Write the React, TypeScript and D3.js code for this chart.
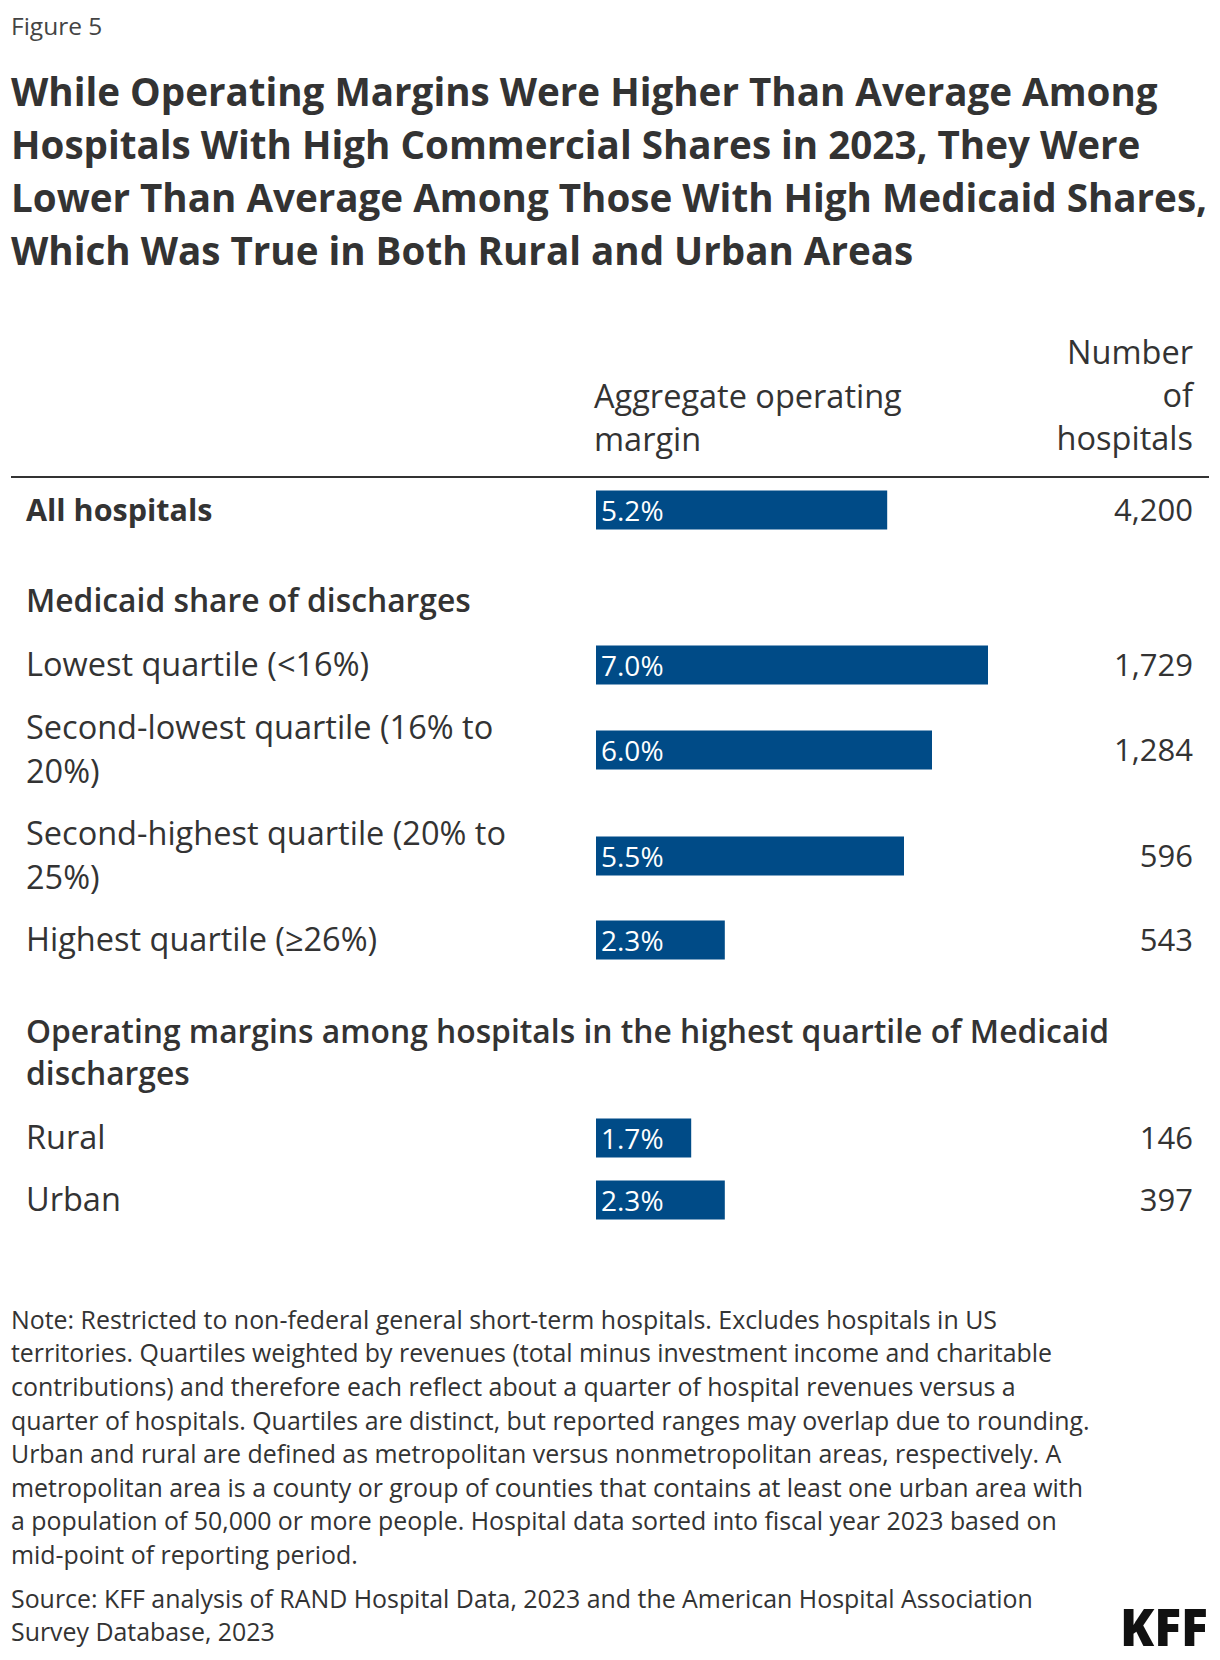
import React from "react";
import * as d3 from "d3";

const figureLabel = "Figure 5";
const titleLines = [
  "While Operating Margins Were Higher Than Average Among",
  "Hospitals With High Commercial Shares in 2023, They Were",
  "Lower Than Average Among Those With High Medicaid Shares,",
  "Which Was True in Both Rural and Urban Areas",
];
const marginHeader = ["Aggregate operating", "margin"];
const countHeader = ["Number", "of", "hospitals"];

const sectionTitles = [
  ["Medicaid share of discharges"],
  ["Operating margins among hospitals in the highest quartile of Medicaid", "discharges"],
];

const rowLabels = [
  ["All hospitals"],
  ["Lowest quartile (<16%)"],
  ["Second-lowest quartile (16% to", "20%)"],
  ["Second-highest quartile (20% to", "25%)"],
  ["Highest quartile (≥26%)"],
  ["Rural"],
  ["Urban"],
];
const operatingMargins = [5.2, 7.0, 6.0, 5.5, 2.3, 1.7, 2.3];
const hospitalCounts = [4200, 1729, 1284, 596, 543, 146, 397];

const noteLines = [
  "Note: Restricted to non-federal general short-term hospitals. Excludes hospitals in US",
  "territories. Quartiles weighted by revenues (total minus investment income and charitable",
  "contributions) and therefore each reflect about a quarter of hospital revenues versus a",
  "quarter of hospitals. Quartiles are distinct, but reported ranges may overlap due to rounding.",
  "Urban and rural are defined as metropolitan versus nonmetropolitan areas, respectively. A",
  "metropolitan area is a county or group of counties that contains at least one urban area with",
  "a population of 50,000 or more people. Hospital data sorted into fiscal year 2023 based on",
  "mid-point of reporting period.",
];
const sourceLines = [
  "Source: KFF analysis of RAND Hospital Data, 2023 and the American Hospital Association",
  "Survey Database, 2023",
];

// layout
const W = 1220;
const H = 1660;
const FONT = "'Open Sans', Lato, sans-serif";
const TEXT = "#333333";
const BAR = "#004b87";
const rowCenters = [510, 665, 750, 856, 940, 1138, 1200];
const sectionY = [601, 1032];
const barH = 39;

export default function App() {
  const x = d3.scaleLinear().domain([0, 7]).range([596, 988]);
  const fmtCount = d3.format(",");
  const fmtPct = (v: number) => d3.format(".1f")(v) + "%";

  return (
    <svg
      width={W}
      height={H}
      style={{ position: "absolute", left: 0, top: 0, background: "#fff" }}
      fontFamily={FONT}
    >
      <rect width={W} height={H} fill="#fff" />
      <text x={11} y={35} fontSize={24.5} fill="#444">
        {figureLabel}
      </text>
      {titleLines.map((t, i) => (
        <text key={i} x={11} y={106 + i * 53} fontSize={38.6} fontWeight={700} fill={TEXT}>
          {t}
        </text>
      ))}

      {marginHeader.map((t, i) => (
        <text key={i} x={594} y={397 + i * 43} dy="0.35em" fontSize={32.5} fill={TEXT}>
          {t}
        </text>
      ))}
      {countHeader.map((t, i) => (
        <text key={i} x={1193} y={353 + i * 43} dy="0.35em" fontSize={32.5} fill={TEXT} textAnchor="end">
          {t}
        </text>
      ))}
      <line x1={11} x2={1209} y1={477} y2={477} stroke={TEXT} strokeWidth={2} />

      {sectionTitles.map((lines, si) =>
        lines.map((t, li) => (
          <text
            key={si + "-" + li}
            x={26}
            y={sectionY[si] + li * 42}
            dy="0.35em"
            fontSize={31.8}
            fontWeight={600}
            fill={TEXT}
          >
            {t}
          </text>
        ))
      )}

      {rowLabels.map((lines, i) => {
        const cy = rowCenters[i];
        const offset = ((lines.length - 1) * 44) / 2;
        return (
          <g key={i}>
            {lines.map((t, li) => (
              <text
                key={li}
                x={26}
                y={cy - offset + li * 44}
                dy="0.35em"
                fontSize={i === 0 ? 30.5 : 32.5}
                fontWeight={i === 0 ? 700 : 400}
                fill={TEXT}
              >
                {t}
              </text>
            ))}
            <rect x={x(0)} y={cy - barH / 2} width={x(operatingMargins[i]) - x(0)} height={barH} fill={BAR} />
            <text x={x(0) + 5} y={cy} dy="0.38em" fontSize={28} fill="#fff">
              {fmtPct(operatingMargins[i])}
            </text>
            <text x={1193} y={cy} dy="0.35em" fontSize={31} fill={TEXT} textAnchor="end">
              {fmtCount(hospitalCounts[i])}
            </text>
          </g>
        );
      })}

      {noteLines.map((t, i) => (
        <text key={i} x={11} y={1320 + i * 33.6} dy="0.35em" fontSize={24.9} fill={TEXT}>
          {t}
        </text>
      ))}
      {sourceLines.map((t, i) => (
        <text key={i} x={11} y={1599 + i * 33.6} dy="0.35em" fontSize={24.9} fill={TEXT}>
          {t}
        </text>
      ))}
      <text x={1208} y={1646} fontSize={52} fontWeight={900} fill="#111" textAnchor="end" textLength={88} lengthAdjust="spacingAndGlyphs">
        KFF
      </text>
    </svg>
  );
}
